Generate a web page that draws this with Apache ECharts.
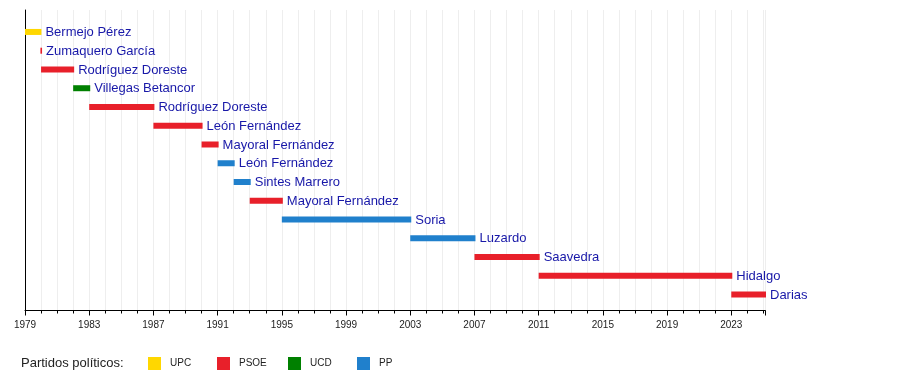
<!DOCTYPE html>
<html><head><meta charset="utf-8">
<script src="https://cdn.jsdelivr.net/npm/echarts@6/dist/echarts.min.js"></script>
<style>html,body{margin:0;padding:0;background:#fff}#c{width:900px;height:390px}</style>
</head><body><div id="c"></div>
<script>
// ---- data ----
const mayors = ['Bermejo Pérez','Zumaquero García','Rodríguez Doreste','Villegas Betancor','Rodríguez Doreste','León Fernández','Mayoral Fernández','León Fernández','Sintes Marrero','Mayoral Fernández','Soria','Luzardo','Saavedra','Hidalgo','Darias'];
const parties = ['UPC','PSOE','PSOE','UCD','PSOE','PSOE','PSOE','PP','PP','PSOE','PP','PP','PSOE','PSOE','PSOE'];
const startYears = [1979.0,1979.96,1980.0,1982.0,1983.0,1987.0,1990.0,1991.0,1992.0,1993.0,1995.0,2003.0,2007.0,2011.0,2023.0];
const endYears   = [1979.96,1980.0,1982.0,1983.0,1987.0,1990.0,1991.0,1992.0,1993.0,1995.0,2003.0,2007.0,2011.0,2023.0,2025.1];
const partyNames = ['UPC','PSOE','UCD','PP'];
const partyColors = ['#FFD700','#E8202A','#008000','#2080CC'];
const firstYear = 1979;
const lastYear = 2025.1;
const majorStep = 4;
const legendTitle = 'Partidos políticos:';

// ---- chart ----
const chart = echarts.init(document.getElementById('c'), null, {renderer:'canvas'});
const FONT = '"Liberation Sans", Arial, Helvetica, sans-serif';

function renderItem(params, api) {
  const row = api.value(2);
  const s = api.coord([api.value(0), row]);
  const e = api.coord([api.value(1), row]);
  const h = 6;
  return {
    type: 'group',
    children: [
      {type:'rect', shape:{x:s[0], y:s[1]-h/2, width:Math.max(e[0]-s[0],0)+1, height:h},
       style:{fill: api.visual('color')}},
      {type:'text', style:{x:e[0]+5, y:s[1]+0.5, text:mayors[row], fill:'#1818a8',
        font:'13px ' + FONT, verticalAlign:'middle', align:'left'}}
    ]
  };
}

const series = partyNames.map((p, pi) => ({
  name: p,
  type: 'custom',
  xAxisIndex: 0,
  yAxisIndex: 0,
  color: partyColors[pi],
  renderItem: renderItem,
  encode: {x:[0,1], y:2},
  clip: false,
  data: mayors.map((m, i) => [startYears[i]-firstYear, endYears[i]-firstYear, i])
              .filter((d, i) => parties[i] === p)
}));

const legendLefts = [148, 217, 288, 357];
const legends = partyNames.map((p, i) => ({
  data: [p], left: legendLefts[i], top: 357, padding: 0,
  itemWidth: 13, itemHeight: 13, icon: 'rect', selectedMode: false,
  textStyle: {fontSize: 10, fontFamily: FONT, color: '#222', padding: [3,0,0,4]}
}));

const span = lastYear - firstYear;
chart.setOption({
  animation: false,
  backgroundColor: '#fff',
  title: {text: legendTitle, left: 21, top: 357, padding: 0,
    textStyle: {fontSize: 13, fontWeight: 'normal', fontFamily: FONT, color: '#222'}},
  legend: legends,
  grid: {left: 25, right: 135, top: 10, bottom: 79.5, containLabel: false},
  xAxis: [
    {type:'value', min:0, max:span, interval:majorStep, position:'bottom',
     axisLine:{show:true, onZero:false, lineStyle:{color:'#000', width:1}},
     axisTick:{show:true, length:5, lineStyle:{color:'#000'}},
     axisLabel:{show:true, margin:10, fontSize:10, fontFamily:FONT, color:'#222',
       formatter: v => (Math.abs(v - Math.round(v)) < 1e-6 && Math.round(v) % majorStep === 0) ? String(firstYear + Math.round(v)) : ''},
     splitLine:{show:false}},
    {type:'value', min:0, max:span, interval:1, position:'bottom',
     axisLine:{show:false, onZero:false},
     axisTick:{show:true, length:3, lineStyle:{color:'#000'}},
     axisLabel:{show:false},
     splitLine:{show:true, lineStyle:{color:'#eeeeee', width:1}}}
  ],
  yAxis: {type:'value', inverse:true, min:-1.17, max:14.85,
    axisLine:{show:true, onZero:false, lineStyle:{color:'#000', width:1}},
    axisTick:{show:false}, axisLabel:{show:false}, splitLine:{show:false}},
  series: series
});
</script>
</body></html>
